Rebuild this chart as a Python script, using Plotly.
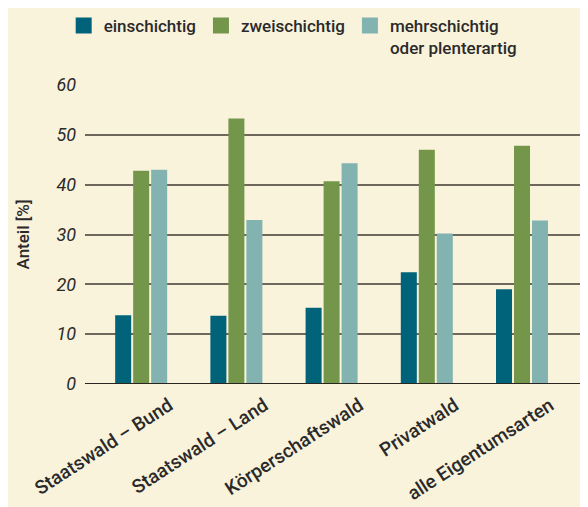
import plotly.graph_objects as go

categories = ["Staatswald – Bund", "Staatswald – Land", "Körperschaftswald", "Privatwald", "alle Eigentumsarten"]
einschichtig = [13.8, 13.7, 15.3, 22.4, 19.0]
zweischichtig = [42.8, 53.3, 40.7, 47.0, 47.8]
mehrschichtig = [43.0, 32.9, 44.3, 30.2, 32.8]
series_names = ["einschichtig", "zweischichtig", "mehrschichtig<br>oder plenterartig"]
colors = ["#00637A", "#74964A", "#82B3B1"]
y_ticks = [0, 10, 20, 30, 40, 50, 60]

bg = "#FAF3DC"
font_family = "Roboto, Noto Sans, sans-serif"
txt = "#2a2a2a"

fig = go.Figure()
x_idx = list(range(len(categories)))
for name, vals, col in zip(series_names, [einschichtig, zweischichtig, mehrschichtig], colors):
    fig.add_trace(go.Bar(x=x_idx, y=vals, name=name, marker=dict(color=col, line=dict(width=0)),
                         showlegend=False))
for name, col in zip(series_names, colors):
    fig.add_trace(go.Scatter(x=[None], y=[None], mode="markers", name=name,
                             marker=dict(symbol="square", size=16, color=col, line=dict(width=0))))

fig.update_layout(
    width=580, height=499,
    paper_bgcolor=bg, plot_bgcolor=bg,
    margin=dict(l=77, r=6, t=77, b=123, autoexpand=False),
    barmode="group", bargap=0.433, bargroupgap=0.11,
    font=dict(family=font_family, color=txt),
    showlegend=True,
    legend=dict(orientation="h", x=0.096, xanchor="left", y=1.0, yanchor="top",
                xref="container", yref="container", valign="top",
                font=dict(size=17, color=txt, family=font_family, weight=500),
                bgcolor="rgba(0,0,0,0)", itemwidth=30, tracegroupgap=0),
    xaxis=dict(range=[-0.59, 4.63], tickmode="array", tickvals=x_idx, ticktext=categories,
               tickangle=-33, showgrid=False, zeroline=False, showline=False, ticks="",
               automargin=False, ticklabelstandoff=6, ticklabelshift=28,
               tickfont=dict(size=19, color=txt, family=font_family, weight=500)),
    yaxis=dict(range=[0, 60], tickvals=y_ticks, showgrid=True, gridcolor="#6d675c", gridwidth=1.5,
               zeroline=False, showline=False, ticks="", ticklabelstandoff=8, automargin=False,
               tickfont=dict(size=18, color=txt, family=font_family, style="italic"),
               title=dict(text="Anteil [%]", font=dict(size=17, color=txt, family=font_family, weight=500),
                          standoff=22)),
)
# baseline and right frame line
fig.add_shape(type="line", xref="paper", yref="y", x0=0, x1=1, y0=0, y1=0,
              line=dict(color="#2a2520", width=2.2))
fig.add_shape(type="line", xref="paper", yref="y", x0=1, x1=1, y0=0, y1=60,
              line=dict(color="#6d675c", width=1.5))

fig.write_html("out.html")
